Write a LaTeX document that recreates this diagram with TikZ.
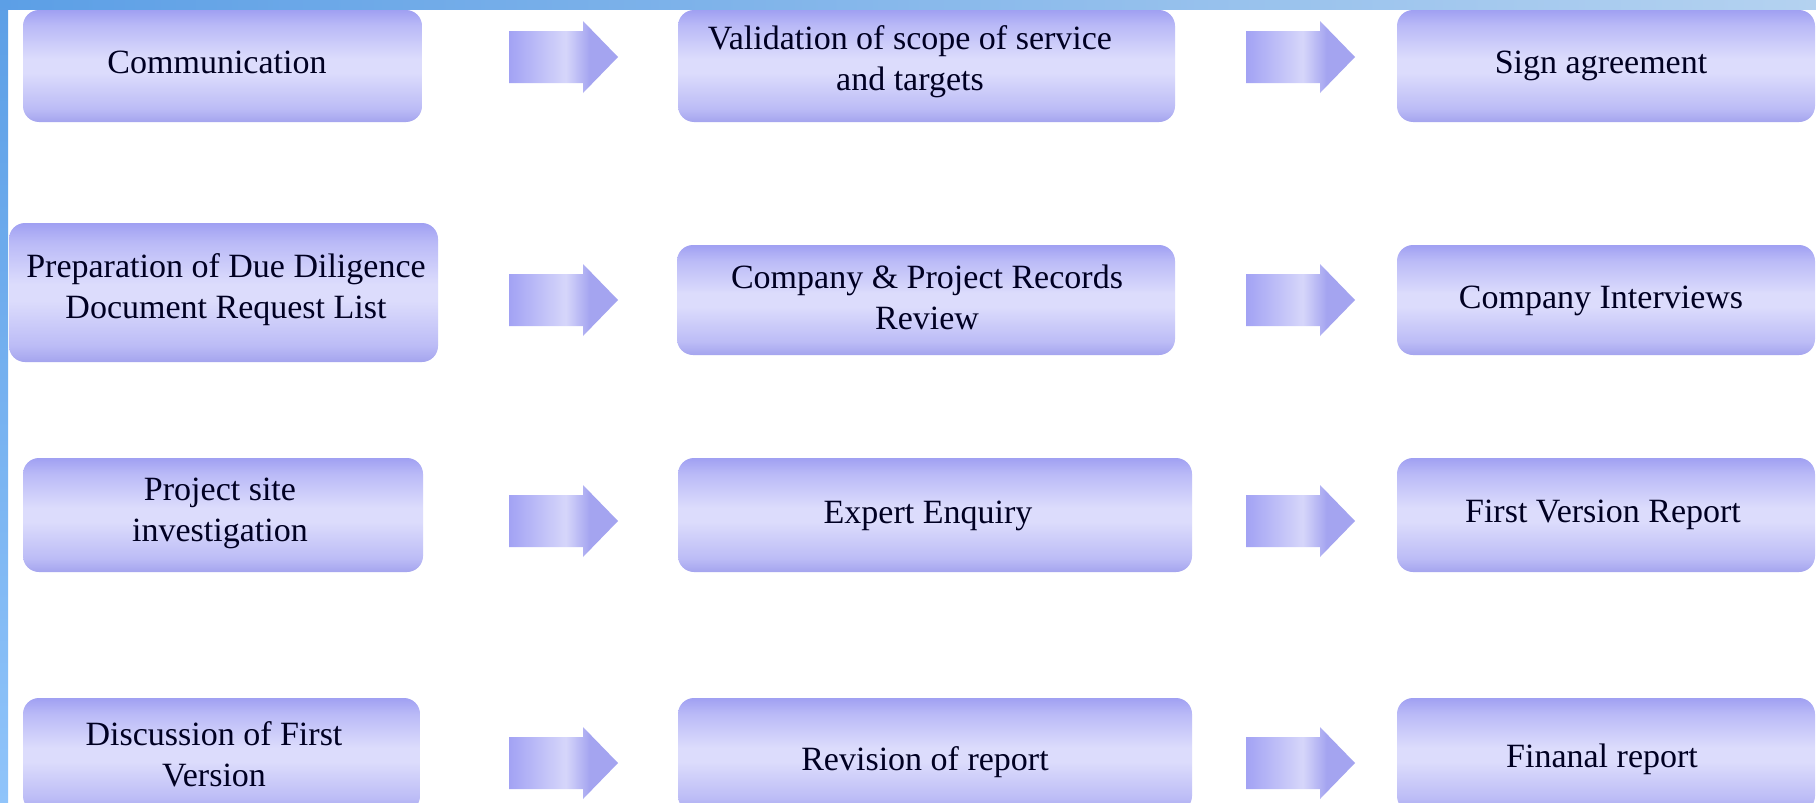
\documentclass[tikz,border=0pt]{standalone}
\usepackage{fontspec}
\setmainfont{Liberation Serif}
\definecolor{bxT}{HTML}{A0A0F2}
\definecolor{bxU}{HTML}{BABAF7}
\definecolor{bxM}{HTML}{DCDCFC}
\definecolor{bxL}{HTML}{BCBCF6}
\definecolor{bxB}{HTML}{A4A4EE}
\definecolor{arL}{HTML}{A2A2F4}
\definecolor{arM}{HTML}{D6D6FA}
\definecolor{arR}{HTML}{A4A4F0}
\definecolor{stA}{HTML}{5C9FE6}
\definecolor{stB}{HTML}{B4D2F0}
\definecolor{stC}{HTML}{90C4FA}
\definecolor{txt}{HTML}{000022}
\pgfdeclareverticalshading{boxshade}{100bp}{color(0bp)=(bxB); color(25bp)=(bxB); color(31bp)=(bxL); color(47bp)=(bxM); color(53bp)=(bxM); color(68bp)=(bxU); color(75bp)=(bxT); color(100bp)=(bxT)}
\pgfdeclarehorizontalshading{arrshade}{100bp}{color(0bp)=(arL); color(25bp)=(arL); color(51bp)=(arM); color(62bp)=(arR); color(75bp)=(arR); color(100bp)=(arR)}
\pgfdeclarehorizontalshading{topstrip}{100bp}{color(0bp)=(stA); color(25bp)=(stA); color(75bp)=(stB); color(100bp)=(stB)}
\pgfdeclareverticalshading{leftstrip}{100bp}{color(0bp)=(stC); color(25bp)=(stC); color(75bp)=(stA); color(100bp)=(stA)}
\begin{document}
\begin{tikzpicture}[x=1pt,y=-1pt,
  box/.style={shading=boxshade, rounded corners=16pt, inner sep=0pt, draw=none},
  lbl/.style={font=\fontsize{34}{41}\selectfont, text=txt, align=center, inner sep=0pt},
  blockarr/.pic={\path[shading=arrshade] (-54.5,-26) -- (19.5,-26) -- (19.5,-36) -- (54.5,0) -- (19.5,36) -- (19.5,26) -- (-54.5,26) -- cycle;}]
\useasboundingbox (0,0) rectangle (1816,803);
\clip (0,0) rectangle (1816,803);
\fill[white] (0,0) rectangle (1816,803);
\path[shading=topstrip] (0,0) rectangle (1816,9);
\path[shading=leftstrip] (0,0) rectangle (8,803);
% row 1
\node[box, minimum width=399pt, minimum height=112pt] (b11) at (222.5,66) {};
\node[box, minimum width=497pt, minimum height=112pt] (b12) at (926.5,66) {};
\node[box, minimum width=418pt, minimum height=112pt] (b13) at (1606,66) {};
\pic at (563.5,57) {blockarr};
\pic at (1300.5,57) {blockarr};
\node[lbl, anchor=base] (t11) at (217,73) {Communication};
\node[lbl] (t12) at (910,62) {Validation of scope of service\\and targets};
\node[lbl, anchor=base] (t13) at (1601,73) {Sign agreement};
% row 2
\node[box, minimum width=429pt, minimum height=139pt] (b21) at (223.5,292.5) {};
\node[box, minimum width=498pt, minimum height=110pt] (b22) at (926,300) {};
\node[box, minimum width=418pt, minimum height=110pt] (b23) at (1606,300) {};
\pic at (563.5,300) {blockarr};
\pic at (1300.5,300) {blockarr};
\node[lbl] (t21) at (226,290) {Preparation of Due Diligence\\Document Request List};
\node[lbl] (t22) at (927,297) {Company \& Project Records\\Review};
\node[lbl, anchor=base] (t23) at (1601,308) {Company Interviews};
% row 3
\node[box, minimum width=400pt, minimum height=114pt] (b31) at (223,515) {};
\node[box, minimum width=514pt, minimum height=114pt] (b32) at (935,515) {};
\node[box, minimum width=418pt, minimum height=114pt] (b33) at (1606,515) {};
\pic at (563.5,521) {blockarr};
\pic at (1300.5,521) {blockarr};
\node[lbl] (t31) at (220,513) {Project site\\investigation};
\node[lbl, anchor=base] (t32) at (928,523) {Expert Enquiry};
\node[lbl, anchor=base] (t33) at (1603,522) {First Version Report};
% row 4
\node[box, minimum width=397pt, minimum height=114pt] (b41) at (221.5,755) {};
\node[box, minimum width=514pt, minimum height=114pt] (b42) at (935,755) {};
\node[box, minimum width=418pt, minimum height=114pt] (b43) at (1606,755) {};
\pic at (563.5,763) {blockarr};
\pic at (1300.5,763) {blockarr};
\node[lbl] (t41) at (214,754) {Discussion of First\\Version};
\node[lbl, anchor=base] (t42) at (925,770) {Revision of report};
\node[lbl, anchor=base] (t43) at (1602,767) {Finanal report};
\end{tikzpicture}
\end{document}
